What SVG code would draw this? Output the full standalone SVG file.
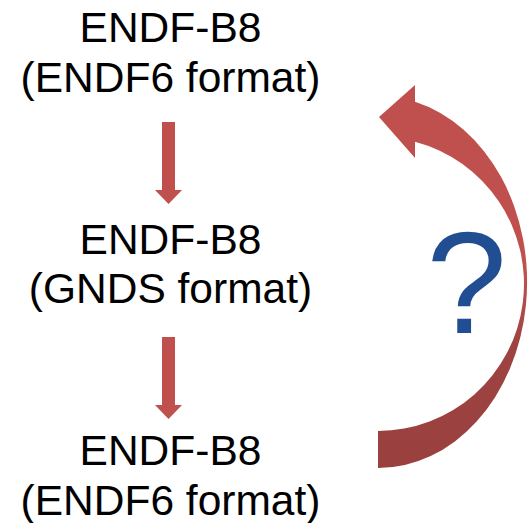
<svg xmlns="http://www.w3.org/2000/svg" width="528" height="523" viewBox="0 0 528 523">
  <defs>
    <style>
      .lbl { font-family: "Liberation Sans", Arial, sans-serif; font-size: 42.5px; fill: #000000; text-anchor: middle; }
      .q { font-family: "Liberation Sans", Arial, sans-serif; font-size: 145px; fill: #214E92; text-anchor: middle; }
      .down { fill: #C0504D; }
    </style>
    <linearGradient id="curveGrad" gradientUnits="userSpaceOnUse" x1="0" y1="85" x2="0" y2="468">
      <stop offset="0" stop-color="#C0504D"/>
      <stop offset="0.5" stop-color="#C0504D"/>
      <stop offset="0.68" stop-color="#9D4341"/>
      <stop offset="1" stop-color="#9A403E"/>
    </linearGradient>
  </defs>
  <rect width="528" height="523" fill="#FFFFFF"/>

  <g id="node1">
    <text class="lbl" x="170.5" y="42">ENDF-B8</text>
    <text class="lbl" x="170.5" y="91.5">(ENDF6 format)</text>
  </g>
  <g id="node2">
    <text class="lbl" x="170.5" y="253.5">ENDF-B8</text>
    <text class="lbl" x="170.5" y="303">(GNDS format)</text>
  </g>
  <g id="node3">
    <text class="lbl" x="170.5" y="465">ENDF-B8</text>
    <text class="lbl" x="170.5" y="514.5">(ENDF6 format)</text>
  </g>

  <g id="connectors">
    <path class="down" d="M162,122 L175,122 L175,190 L182,190 L168.5,204 L155,190 L162,190 Z"/>
    <path class="down" d="M162,337 L175,337 L175,405 L182,405 L168.5,419 L155,405 L162,405 Z"/>
    <path fill="url(#curveGrad)" d="M415,101.8 A149,186 0 0 1 378,468 L378,431 A146,147 0 0 0 415,141.8 L415,158 L379,117 L415,85 Z"/>
  </g>

  <g id="question">
    <text class="q" x="466.5" y="333">?</text>
  </g>
</svg>
